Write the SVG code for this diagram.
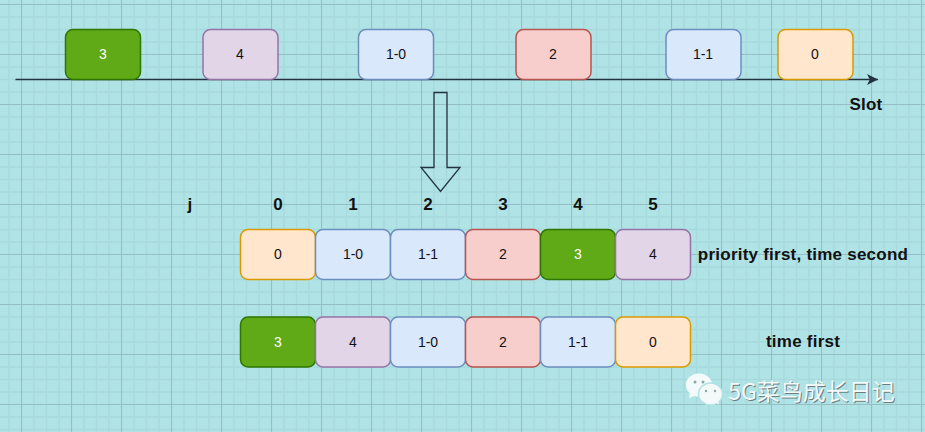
<svg xmlns="http://www.w3.org/2000/svg" width="925" height="432" viewBox="0 0 925 432">
<defs>
<pattern id="grid" width="50" height="50" patternUnits="userSpaceOnUse" x="21" y="4">
<path d="M13 0V50M25.500 0V50M38 0V50M0 13H50M0 25.500H50M0 38H50" fill="none" stroke="#a8dadd" stroke-width="1.500"/>
<path d="M0.500 0V50M0 0.500H50" fill="none" stroke="#95bfc2" stroke-width="1.200"/>
</pattern>
<marker id="tip" markerUnits="userSpaceOnUse" markerWidth="12" markerHeight="12" refX="11" refY="5.500" orient="auto">
<path d="M0 0L11 5.500L0 11L2.800 5.500Z" fill="#23323f"/>
</marker>
</defs>
<style>
text{font-family:"Liberation Sans",Arial,sans-serif;text-anchor:middle}
.n text{font-size:14px;fill:#111}
.n rect{stroke-width:1.500px}
.g rect{fill:#60a917;stroke:#2d7600}.g text{fill:#fff}
.p rect{fill:#e1d5e7;stroke:#9673a6}
.b rect{fill:#dae8fc;stroke:#6c8ebf}
.r rect{fill:#f8cecc;stroke:#b85450}
.o rect{fill:#ffe6cc;stroke:#d79b00}
.l{font-size:17px;font-weight:bold;fill:#111;letter-spacing:.23px}
.w{font-family:"Noto Sans CJK SC","Liberation Sans",sans-serif;font-size:23px}
</style>
<rect width="925" height="432" fill="#b0e3e6"/>
<rect width="925" height="432" fill="url(#grid)"/>
<g id="connectors">
<line id="slot-axis" x1="15.500" y1="79.500" x2="878" y2="79.500" stroke="#23323f" stroke-width="1.300" marker-end="url(#tip)"/>
</g>
<polygon id="down-arrow" points="434,92.500 447,92.500 447,167.500 460,167.500 440.500,191.500 421,167.500 434,167.500" fill="none" stroke="#23323f" stroke-width="1.300"/>
<g id="a3" class="n g"><rect x="65.500" y="29.500" width="75" height="50" rx="7.500"/><text x="103" y="59">3</text></g>
<g id="a4" class="n p"><rect x="203" y="29.500" width="75" height="50" rx="7.500"/><text x="240" y="59">4</text></g>
<g id="a10" class="n b"><rect x="358.500" y="29.500" width="75" height="50" rx="7.500"/><text x="396" y="59">1-0</text></g>
<g id="a2" class="n r"><rect x="516" y="29.500" width="75" height="50" rx="7.500"/><text x="553" y="59">2</text></g>
<g id="a11" class="n b"><rect x="666" y="29.500" width="75" height="50" rx="7.500"/><text x="703" y="59">1-1</text></g>
<g id="a0" class="n o"><rect x="778" y="29.500" width="75" height="50" rx="7.500"/><text x="815" y="59">0</text></g>
<text class="l" x="866" y="110">Slot</text>
<text class="l" x="190" y="210">j</text>
<text class="l" x="278" y="210">0</text>
<text class="l" x="353" y="210">1</text>
<text class="l" x="428" y="210">2</text>
<text class="l" x="503" y="210">3</text>
<text class="l" x="578" y="210">4</text>
<text class="l" x="653" y="210">5</text>
<g id="b0" class="n o"><rect x="240.500" y="229.500" width="75" height="50" rx="7.500"/><text x="278" y="259">0</text></g>
<g id="b10" class="n b"><rect x="315.500" y="229.500" width="75" height="50" rx="7.500"/><text x="353" y="259">1-0</text></g>
<g id="b11" class="n b"><rect x="390.500" y="229.500" width="75" height="50" rx="7.500"/><text x="428" y="259">1-1</text></g>
<g id="b2" class="n r"><rect x="465.500" y="229.500" width="75" height="50" rx="7.500"/><text x="503" y="259">2</text></g>
<g id="b3" class="n g"><rect x="540.500" y="229.500" width="75" height="50" rx="7.500"/><text x="578" y="259">3</text></g>
<g id="b4" class="n p"><rect x="615.500" y="229.500" width="75" height="50" rx="7.500"/><text x="653" y="259">4</text></g>
<text class="l" x="803" y="260">priority first, time second</text>
<g id="c3" class="n g"><rect x="240.500" y="317" width="75" height="50" rx="7.500"/><text x="278" y="347">3</text></g>
<g id="c4" class="n p"><rect x="315.500" y="317" width="75" height="50" rx="7.500"/><text x="353" y="347">4</text></g>
<g id="c10" class="n b"><rect x="390.500" y="317" width="75" height="50" rx="7.500"/><text x="428" y="347">1-0</text></g>
<g id="c2" class="n r"><rect x="465.500" y="317" width="75" height="50" rx="7.500"/><text x="503" y="347">2</text></g>
<g id="c11" class="n b"><rect x="540.500" y="317" width="75" height="50" rx="7.500"/><text x="578" y="347">1-1</text></g>
<g id="c0" class="n o"><rect x="615.500" y="317" width="75" height="50" rx="7.500"/><text x="653" y="347">0</text></g>
<text class="l" x="803" y="347">time first</text>
<g id="watermark">
<ellipse cx="699" cy="385" rx="13" ry="11.500" fill="#f4fafa"/>
<path d="M690 393L689 398L697 395Z" fill="#f4fafa"/>
<ellipse cx="710.500" cy="394" rx="12" ry="11" fill="#f4fafa" stroke="#b0e3e6" stroke-width="1.500"/>
<path d="M715 402L719 405L718 399Z" fill="#f4fafa"/>
<circle cx="695" cy="382" r="1.500" fill="#8fa5a6"/><circle cx="703" cy="382" r="1.500" fill="#8fa5a6"/>
<circle cx="706" cy="391" r="1.200" fill="#8fa5a6"/><circle cx="715" cy="391" r="1.200" fill="#8fa5a6"/>
<text class="w" x="812.500" y="401" fill="#6d7d7e">5G菜鸟成长日记</text>
<text class="w" x="811.500" y="400" fill="#f4fafa">5G菜鸟成长日记</text>
</g>
</svg>
